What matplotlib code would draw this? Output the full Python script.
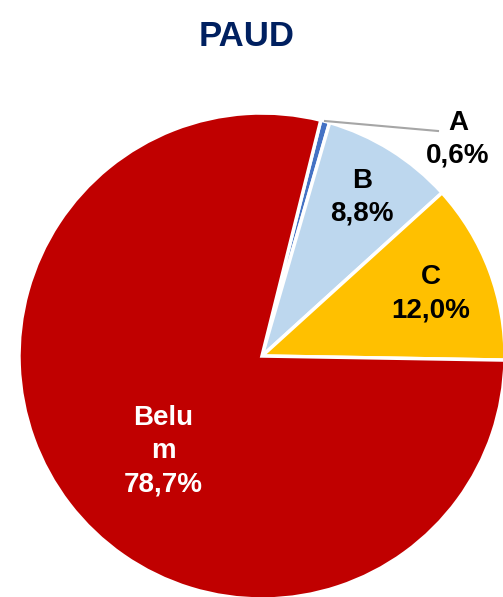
import matplotlib.pyplot as plt

# Data
categories = ['A', 'B', 'C', 'Belum']
values = [0.6, 8.8, 12.0, 78.7]
value_labels = ['0,6%', '8,8%', '12,0%', '78,7%']
colors = ['#4472C4', '#BDD7EE', '#FFC000', '#C00000']

W, H = 503, 597
fig = plt.figure(figsize=(W / 100, H / 100), dpi=100)
ax = fig.add_axes([0, 0, 1, 1])

cx, cy, r = 262, H - 356, 243
ax.pie(values, colors=colors, startangle=76, counterclock=False,
       center=(cx, cy), radius=r, frame=True,
       wedgeprops=dict(edgecolor='white', linewidth=2.5))
ax.set_xlim(0, W)
ax.set_ylim(0, H)
ax.axis('off')

font = dict(family='Liberation Sans', fontweight='bold', fontsize=20,
            ha='center', va='center', linespacing=1.35)

# leader line for A
ax.plot([325, 438], [H - 121, H - 131], color='#A6A6A6', lw=1.5)
ax.text(458, H - 139, 'A\n' + value_labels[0], color='black', **font)
ax.text(362, H - 197, 'B\n' + value_labels[1], color='black', **font)
ax.text(431, H - 294, 'C\n' + value_labels[2], color='black', **font)
ax.text(163, H - 451, 'Belu\nm\n' + value_labels[3], color='white', **font)

fig.text(247 / W, 1 - 36 / H, 'PAUD', family='Liberation Sans', fontweight='bold',
         fontsize=25, color='#002060', ha='center', va='center')

plt.savefig('out.png', dpi=100, facecolor='white')
